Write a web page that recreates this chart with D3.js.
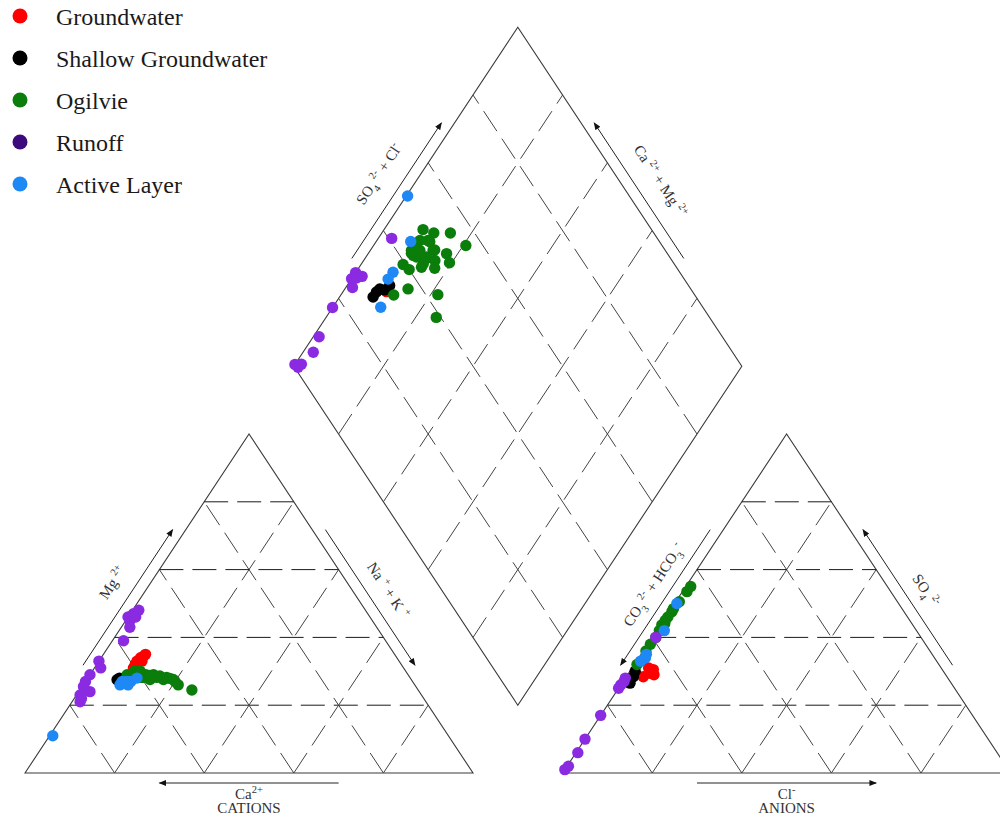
<!DOCTYPE html>
<html>
<head>
<meta charset="utf-8">
<script src="https://cdn.jsdelivr.net/npm/d3@7"></script>
<style>
  body { margin: 0; background: #fff; }
  svg { display: block; }
  text { font-family: "Liberation Serif", "DejaVu Serif", serif; }
</style>
</head>
<body>
<svg id="chart" width="1000" height="822"></svg>
<script>
// ---- data (percent values) ----
var groups = ["Groundwater", "Shallow Groundwater", "Ogilvie", "Runoff", "Active Layer"];
var legendColors = ["#ff0000", "#000000", "#0a7d0a", "#3d0a7e", "#1e88f5"];
var pointColors  = ["#ff0000", "#000000", "#0a7d0a", "#8a2be2", "#1e88f5"];

// cation triangle: [Mg2+, Na+ + K+]
var cationsGroundwater = [[34,8.8],[33,8.5],[34.3,9.2],[32,8.6],[33,9.6],[35,9.4],[31,8.7]];
var cationsShallow = [[28,7.1],[27.5,6.8]];
var cationsOgilvie = [[29,8.3],[30,9.4],[30,10.7],[29,12.5],[29,14.2],[28.6,15.8],[28.2,17.5],[27.6,19.3],[26,21.2],[24.5,25],
  [27.6,14.1],[28.2,12.3],[28.2,15.3],[27.6,17.1],[27.9,18.4],[28.2,11.6],[28.5,10],[27,20],[29.5,11],[28.8,13.5]];
var cationsRunoff = [[48,1.4],[47,0.7],[46,0],[45,0.9],[46,1.7],[43,1.9],[39,2.5],[33,0],[31,1.4],[29,0],[27,0],[25.5,0.3],
  [24,2.5],[23,0.8],[21,1.8],[22,1.6]];
var cationsActive = [[11,0.7],[26.5,8.3],[27,9.2],[27,10.1],[27,8.2],[28,11],[26,8.2],[26,10]];

// anion triangle: [SO4 2-, Cl-]
var anionsGroundwater = [[31,3.7],[29,5.9],[28.4,3.8],[29.4,4.8],[30.5,5]];
var anionsShallow = [[30,1.2],[26.5,1.8],[28.4,1.6]];
var anionsOgilvie = [[55,1.1],[53.5,1],[47.6,0.6],[46,0.5],[44,0.8],[43.7,0.3],[42,0.6],[38,0.6],[36,0.6],[32,0.6],
  [50.5,0.8],[48.5,0.5],[40,0.8],[45,0.4]];
var anionsRunoff = [[40,0.8],[28,0],[26,0],[25,0],[17,0],[10,0],[6,0.4],[1,0],[2,0.3],[27,0.2]];
var anionsActive = [[50,0.5],[42,1.7],[34,1.5],[33,0.9],[35,1.2]];

// diamond: [Na+ + K+, SO4 2- + Cl-]
var diamondGroundwater = [[9.7,31.7]];
var diamondShallow = [[7.5,27.9],[7.8,30.6],[9.5,33.3],[7.5,29.4],[9,31.5]];
var diamondOgilvie = [[8.7,49],[11.6,50.9],[15.3,54.6],[20.6,56.2],[9.6,46.7],[11.4,48.5],[9.2,43.3],[11.1,45.2],[14,48.2],
  [17.5,50.7],[10.3,43],[13.7,45.5],[15.9,47.1],[19.5,50],[9.4,39.4],[11.5,40],[13.9,43.1],[13.8,44],[17,45.9],[14.1,36.9],
  [11.8,32.8],[21.6,42.7],[24.6,39],[11.3,43.5],[13.5,45.7],[9.2,44.8],[12,48.7],[14.3,48.6],[9.6,42.9]];
var diamondRunoff = [[3,40.7],[0,27.6],[2,28.5],[0,25.8],[1.5,24.7],[0,17.3],[1.3,10],[2.3,6.4],[0,0.5],[1.4,2],[1.1,0.8],
  [0.5,26.5],[1,27]];
var diamondActive = [[0.3,50.5],[7.7,44.5],[8.3,36],[8.2,33.9],[10.7,28.1]];

var gridSteps = [20, 40, 60, 80];

// ---- layout ----
var svg = d3.select("#chart");
// x in triangle-side units (side = 1, gap = 0.2), y in triangle-height units
var x = d3.scaleLinear().domain([0, 2.2]).range([25, 1010.6]);
var y = d3.scaleLinear().domain([0, 1]).range([773, 434]);
var P = function(p) { return [x(p[0]), y(p[1])]; };

function cationXY(d) { var mg = d[0]/100, nak = d[1]/100; return P([nak + mg/2, mg]); }
function anionXY(d) { var so4 = d[0]/100, cl = d[1]/100; return P([1.2 + cl + so4/2, so4]); }
function diamondXY(d) {
    var u = d[1]/100, v = 1 - d[0]/100;
    return P([1.1 - 0.5*v + 0.5*u, 0.2 + u + v]);
}

var line = d3.line();
var outline = svg.append("g");
var grid = svg.append("g");

function segment(a, b, cls) {
    grid.append("path").attr("d", line([P(a), P(b)]))
        .attr("fill", "none")
        .attr("stroke", cls == "h" ? "#1a1a1a" : "#444")
        .attr("stroke-width", 1)
        .attr("stroke-dasharray", "24,9");
}

// triangles
[0, 1.2].forEach(function(x0) {
    outline.append("path")
        .attr("d", line([P([x0,0]), P([x0+0.5,1]), P([x0+1,0])]) + "Z")
        .attr("fill", "none").attr("stroke", "#3a3a3a").attr("stroke-width", 1.1);
    gridSteps.forEach(function(s) {
        var t = s/100;
        segment([x0 + t/2, t], [x0 + 1 - t/2, t], "h");
        segment([x0 + t, 0], [x0 + t + (1-t)/2, 1-t], "d");
        segment([x0 + 1 - t, 0], [x0 + (1-t)/2, 1-t], "d");
    });
});

// diamond
var dB = [1.1, 0.2], dL = [0.6, 1.2], dT = [1.1, 2.2], dR = [1.6, 1.2];
outline.append("path")
    .attr("d", line([P(dB), P(dL), P(dT), P(dR)]) + "Z")
    .attr("fill", "none").attr("stroke", "#3a3a3a").attr("stroke-width", 1.1);
gridSteps.forEach(function(s) {
    var t = s/100;
    segment([dB[0] + 0.5*t, dB[1] + t], [dL[0] + 0.5*t, dL[1] + t], "d");
    segment([dB[0] - 0.5*t, dB[1] + t], [dR[0] - 0.5*t, dR[1] + t], "d");
});

// ---- arrows and axis labels ----
svg.append("defs").append("marker")
    .attr("id", "arrow").attr("viewBox", "0 -4 10 8")
    .attr("refX", 9).attr("refY", 0)
    .attr("markerWidth", 8).attr("markerHeight", 6)
    .attr("markerUnits", "userSpaceOnUse")
    .attr("orient", "auto")
    .append("path").attr("d", "M0,-4L10,0L0,4Z").attr("fill", "#111");

function richText(g, parts, size) {
    var t = g.append("text").attr("text-anchor", "middle")
        .attr("dominant-baseline", "middle")
        .attr("font-size", size).attr("fill", "#333");
    parts.forEach(function(p) {
        var ts = t.append("tspan").text(p[0]);
        if (p[1] == "sup") ts.attr("baseline-shift", "super").attr("font-size", size*0.7);
        if (p[1] == "sub") ts.attr("baseline-shift", "sub").attr("font-size", size*0.7);
    });
    return t;
}

// a = start of edge, b = end, arrow points to b if toB, label on outer side
function edgeAxis(a, b, toB, parts, labelOff) {
    var pa = P(a), pb = P(b);
    var dx = pb[0] - pa[0], dy = pb[1] - pa[1], len = Math.sqrt(dx*dx + dy*dy);
    var nx = dy/len, ny = -dx/len;
    var at = function(f, off) { return [pa[0] + f*dx + nx*off, pa[1] + f*dy + ny*off]; };
    var s = at(0.30, 11), e = at(0.70, 11);
    svg.append("path").attr("d", line(toB ? [s, e] : [e, s]))
        .attr("stroke", "#222").attr("stroke-width", 1).attr("marker-end", "url(#arrow)");
    var c = at(0.51, labelOff);
    var ang = Math.atan2(dy, dx) * 180 / Math.PI;
    var g = svg.append("g").attr("transform", "translate(" + c[0] + "," + c[1] + ") rotate(" + ang + ")");
    richText(g, parts, 15);
}

edgeAxis([0,0], [0.5,1], true, [["Mg "], ["2+", "sup"]], 30);
edgeAxis([0.5,1], [1,0], true, [["Na "], ["+", "sup"], [" + K "], ["+", "sup"]], 28);
edgeAxis([1.2,0], [1.7,1], false, [["CO"], ["3", "sub"], [" 2-", "sup"], [" + HCO"], ["3", "sub"], [" -", "sup"]], 26);
edgeAxis([1.7,1], [2.2,0], false, [["SO"], ["4", "sub"], [" 2-", "sup"]], 28);
edgeAxis(dL, dT, true, [["SO"], ["4", "sub"], [" 2-", "sup"], [" + Cl"], ["-", "sup"]], 33);
edgeAxis(dT, dR, false, [["Ca "], ["2+", "sup"], [" + Mg "], ["2+", "sup"]], 32);

function baseAxis(x0, toRight, parts, title) {
    var yy = y(0) + 10;
    var a = [x(x0 + 0.3), yy], b = [x(x0 + 0.7), yy];
    svg.append("path").attr("d", line(toRight ? [a, b] : [b, a]))
        .attr("stroke", "#222").attr("stroke-width", 1).attr("marker-end", "url(#arrow)");
    var g = svg.append("g").attr("transform", "translate(" + x(x0 + 0.5) + "," + (yy + 13) + ")");
    richText(g, parts, 15);
    svg.append("text").attr("x", x(x0 + 0.5)).attr("y", yy + 27)
        .attr("text-anchor", "middle").attr("dominant-baseline", "middle")
        .attr("font-size", 15).attr("fill", "#333").text(title);
}
baseAxis(0, false, [["Ca"], ["2+", "sup"]], "CATIONS");
baseAxis(1.2, true, [["Cl"], ["-", "sup"]], "ANIONS");

// ---- points ----
var cationSets = [cationsGroundwater, cationsShallow, cationsOgilvie, cationsActive, cationsRunoff];
var anionSets = [anionsGroundwater, anionsShallow, anionsOgilvie, anionsActive, anionsRunoff];
var diamondSets = [diamondGroundwater, diamondShallow, diamondOgilvie, diamondActive, diamondRunoff];
var drawOrder = [0, 1, 2, 4, 3];

function plotSets(sets, toXY) {
    sets.forEach(function(data, i) {
        var gi = drawOrder[i];
        svg.append("g").selectAll("circle").data(data).join("circle")
            .attr("cx", function(d) { return toXY(d)[0]; })
            .attr("cy", function(d) { return toXY(d)[1]; })
            .attr("r", 5.7)
            .attr("fill", pointColors[gi]);
    });
}
plotSets(cationSets, cationXY);
plotSets(anionSets, anionXY);
plotSets(diamondSets, diamondXY);

// ---- legend ----
var legend = svg.append("g").selectAll("g").data(groups).join("g")
    .attr("transform", function(d, i) { return "translate(20," + (16 + i*42) + ")"; });
legend.append("circle").attr("r", 7.5).attr("fill", function(d, i) { return legendColors[i]; });
legend.append("text").attr("x", 36).attr("y", 8.5)
    .attr("font-size", 24).attr("fill", "#1a1a1a").text(function(d) { return d; });
</script>
</body>
</html>
